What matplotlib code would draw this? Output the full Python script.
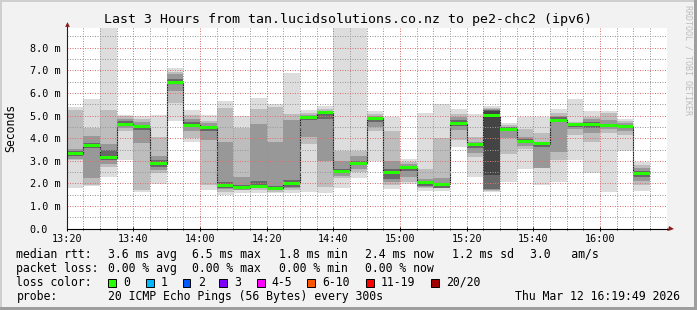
import matplotlib

matplotlib.use("Agg")
import matplotlib.pyplot as plt
from matplotlib.patches import Rectangle

W, H = 697, 310
MONO = "DejaVu Sans Mono"

title = "Last 3 Hours from tan.lucidsolutions.co.nz to pe2-chc2 (ipv6)"

# one smoke column per 300 s probe round
bar_times = [
    "13:20", "13:25", "13:30", "13:35", "13:40", "13:45", "13:50", "13:55",
    "14:00", "14:05", "14:10", "14:15", "14:20", "14:25", "14:30", "14:35",
    "14:40", "14:45", "14:50", "14:55", "15:00", "15:05", "15:10", "15:15",
    "15:20", "15:25", "15:30", "15:35", "15:40", "15:45", "15:50", "15:55",
    "16:00", "16:05", "16:10",
]
step_min = 5

# milliseconds
median_ms = [3.31, 3.66, 3.13, 4.62, 4.53, 2.87, 6.46, 4.57, 4.46, 1.90, 1.81, 1.88,
             1.79, 2.00, 4.90, 5.13, 2.54, 2.90, 4.88, 2.50, 2.69, 2.03, 1.96, 4.63,
             3.74, 4.99, 4.40, 3.87, 3.76, 4.79, 4.62, 4.60, 4.56, 4.50, 2.44]

# smoke bands, outermost (min..max) to innermost
ping_min = [1.78, 1.90, 2.29, 3.03, 1.63, 1.99, 4.76, 3.84, 1.72, 1.51, 1.56, 1.56,
            1.56, 1.56, 1.63, 1.59, 1.78, 2.25, 2.99, 1.75, 1.96, 1.68, 1.66, 3.62,
            2.29, 1.60, 2.07, 2.63, 1.93, 2.07, 3.03, 2.44, 1.63, 3.44, 1.68]
ping_max = [5.37, 5.72, 9.20, 5.04, 4.99, 5.04, 7.10, 5.24, 5.01, 5.63, 4.99, 5.78,
            5.51, 6.88, 5.24, 5.41, 9.20, 9.20, 5.19, 4.94, 3.10, 5.13, 5.49, 5.31,
            5.09, 5.41, 4.69, 4.94, 4.94, 5.28, 5.72, 5.19, 5.19, 4.84, 2.96]

band2_lo = [3.03, 1.94, 2.74, 4.30, 1.71, 2.45, 5.57, 4.01, 1.95, 1.63, 1.71, 1.71,
            1.63, 1.71, 3.74, 1.85, 2.22, 2.51, 4.31, 1.93, 2.07, 1.78, 1.78, 3.91,
            3.18, 1.68, 3.32, 3.54, 2.69, 3.03, 4.13, 3.81, 4.25, 4.13, 1.93]
band2_hi = [5.24, 4.43, 5.24, 4.98, 4.87, 4.05, 6.93, 5.04, 4.75, 5.34, 4.43, 5.31,
            5.38, 5.09, 5.13, 5.31, 3.43, 3.43, 5.09, 4.31, 2.96, 2.66, 3.99, 5.09,
            4.06, 5.34, 4.57, 4.40, 4.21, 5.13, 4.72, 4.94, 5.12, 4.75, 2.81]

band3_lo = [3.08, 2.25, 2.88, 4.45, 3.80, 2.60, 6.10, 4.30, 3.90, 1.75, 1.72, 1.78,
            1.71, 1.80, 4.06, 3.00, 2.35, 2.65, 4.50, 2.05, 2.30, 1.85, 1.80, 4.35,
            3.35, 1.72, 4.00, 3.65, 2.70, 3.40, 4.40, 4.25, 4.40, 4.30, 2.10]
band3_hi = [3.52, 4.10, 3.76, 4.85, 4.70, 3.20, 6.85, 4.85, 4.65, 3.84, 2.30, 4.63,
            3.84, 4.79, 5.02, 5.22, 3.00, 3.20, 4.98, 3.00, 2.85, 2.20, 2.25, 4.95,
            3.85, 5.28, 4.50, 4.05, 3.85, 4.98, 4.68, 4.85, 4.80, 4.65, 2.70]

band4_lo = [3.22, 3.55, 3.03, 4.55, 4.35, 2.72, 6.40, 4.50, 4.30, 1.80, 1.74, 1.82,
            1.72, 1.85, 4.80, 4.85, 2.45, 2.80, 4.72, 2.20, 2.55, 1.90, 1.82, 4.55,
            3.55, 1.75, 4.30, 3.80, 3.60, 4.70, 4.48, 4.45, 4.50, 4.45, 2.30]
band4_hi = [3.42, 3.80, 3.47, 4.75, 4.60, 3.05, 6.62, 4.70, 4.55, 2.05, 1.95, 2.10,
            1.90, 2.15, 5.00, 5.18, 2.62, 3.00, 4.94, 2.65, 2.78, 2.08, 2.02, 4.80,
            3.80, 5.25, 4.48, 3.95, 3.82, 4.95, 4.66, 4.70, 4.62, 4.60, 2.55]

band5_lo = [3.25, 3.60, 3.06, 4.58, 4.46, 2.80, 6.42, 4.52, 4.40, 1.84, 1.76, 1.83,
            1.74, 1.94, 4.85, 5.07, 2.48, 2.85, 4.83, 2.44, 2.63, 1.97, 1.90, 4.58,
            3.68, 2.37, 4.35, 3.82, 3.70, 4.74, 4.57, 4.55, 4.51, 4.45, 2.38]
band5_hi = [3.38, 3.72, 3.20, 4.68, 4.58, 2.94, 6.52, 4.62, 4.50, 1.96, 1.86, 1.94,
            1.84, 2.06, 4.95, 5.17, 2.58, 2.95, 4.92, 2.55, 2.74, 2.07, 2.00, 4.68,
            3.78, 5.20, 4.45, 3.92, 3.80, 4.84, 4.66, 4.65, 4.60, 4.55, 2.48]

y_ticks = [0, 1, 2, 3, 4, 5, 6, 7, 8]
y_tick_labels = ["0.0", "1.0 m", "2.0 m", "3.0 m", "4.0 m", "5.0 m", "6.0 m", "7.0 m", "8.0 m"]
y_top = 8.87
x_tick_labels = ["13:20", "13:40", "14:00", "14:20", "14:40", "15:00", "15:20", "15:40", "16:00"]
x_end = "16:20"

legend_rtt = ["median rtt:", "3.6 ms avg", "6.5 ms max", "1.8 ms min", "2.4 ms now",
              "1.2 ms sd", "3.0   am/s"]
legend_loss = ["packet loss:", "0.00 % avg", "0.00 % max", "0.00 % min", "0.00 % now"]
loss_labels = ["0", "1", "2", "3", "4-5", "6-10", "11-19", "20/20"]
loss_colors = ["#26ff00", "#00b8ff", "#0059ff", "#7e00ff", "#ff00ff", "#ff5500", "#ff0000", "#a10000"]
probe_text = "20 ICMP Echo Pings (56 Bytes) every 300s"
stamp = "Thu Mar 12 16:19:49 2026"


def minutes(hhmm: str) -> int:
    h, m = hhmm.split(":")
    return (int(h) - 13) * 60 + int(m) - 20


def fx(px: float) -> float:
    return px / W


def fy(py: float) -> float:
    return 1 - py / H


fig = plt.figure(figsize=(W / 100, H / 100), dpi=100, facecolor="#f2f2f2")

# rrdtool-ish shaded frame
fig.add_artist(Rectangle((0, fy(2)), 1, 2 / H, transform=fig.transFigure, color="#cfcfcf", lw=0))
fig.add_artist(Rectangle((0, 0), 2 / W, 1, transform=fig.transFigure, color="#cfcfcf", lw=0))
fig.add_artist(Rectangle((0, 0), 1, 3 / H, transform=fig.transFigure, color="#9e9e9e", lw=0))
fig.add_artist(Rectangle((fx(694), 0), 3 / W, 1, transform=fig.transFigure, color="#9e9e9e", lw=0))

x0, x1, ytop, ybot = 66.7, 666.7, 28.0, 228.7
ax = fig.add_axes([fx(x0), fy(ybot), (x1 - x0) / W, (ybot - ytop) / H])
ax.set_facecolor("white")

edges = [minutes(t) for t in bar_times]
edges.append(edges[-1] + step_min)

layers = [
    (ping_min, ping_max, "#dddddd"),
    (band2_lo, band2_hi, "#bdbdbd"),
    (band3_lo, band3_hi, "#989898"),
    (band4_lo, band4_hi, "#686868"),
    (band5_lo, band5_hi, "#444444"),
]
for lo, hi, col in layers:
    ax.stairs(hi, edges, baseline=lo, fill=True, color=col, lw=0, zorder=1)

ax.stairs(median_ms, edges, baseline=None, color="#202020", lw=0.8, zorder=2)
hw = 1.45 * y_top / (ybot - ytop)
ax.stairs([m + hw for m in median_ms], edges, baseline=[m - hw for m in median_ms],
          fill=True, color=loss_colors[0], lw=0, zorder=3)

ax.set_xlim(0, minutes(x_end))
ax.set_ylim(0, y_top)
ax.set_xticks([minutes(t) for t in x_tick_labels], x_tick_labels)
ax.set_xticks(range(0, minutes(x_end) + 1, step_min), minor=True)
ax.set_yticks(y_ticks, y_tick_labels)
ax.set_yticks([v + 0.5 for v in y_ticks], minor=True)

ax.grid(which="minor", color=(0.6, 0.6, 0.6, 0.45), lw=0.72, ls=(0, (1, 1.5)))
ax.grid(which="major", color=(0.85, 0.45, 0.45, 0.45), lw=0.72, ls=(0, (1, 1.5)))
ax.set_axisbelow(False)

for s in ax.spines.values():
    s.set_visible(False)
ax.tick_params(axis="x", which="major", direction="inout", length=2.9, width=0.7,
               pad=2.4, labelsize=7.3, colors="black")
ax.tick_params(axis="x", which="minor", direction="inout", length=2.0, width=0.6)
ax.tick_params(axis="y", which="both", length=0, pad=(x0 - 29.5) * 0.72, labelsize=7.3)
for lbl in ax.get_xticklabels() + ax.get_yticklabels():
    lbl.set_fontfamily(MONO)
for lbl in ax.get_yticklabels():
    lbl.set_horizontalalignment("left")

# axes with arrows
axis_col = "#202020"
arrow_col = "#8b1a1a"
ax.plot([0, 0], [0, 1 + 3.5 / (ybot - ytop)], transform=ax.transAxes, clip_on=False,
        color=axis_col, lw=0.8, zorder=4)
ax.plot([0, 1 + 3.0 / (x1 - x0)], [0, 0], transform=ax.transAxes, clip_on=False,
        color="black", lw=0.8, zorder=4)
ax.plot([0], [(ybot - 23.5) / (ybot - ytop)], transform=ax.transAxes, clip_on=False,
        marker="^", ms=3.4, color=arrow_col, mew=0, zorder=5)
ax.plot([1 + (671.2 - x1) / (x1 - x0)], [0], transform=ax.transAxes, clip_on=False,
        marker=">", ms=3.6, color=arrow_col, mew=0, zorder=5)

fig.text(fx(347.5), fy(19.3), title, ha="center", va="center", fontsize=9.5, family=MONO)
fig.text(fx(11), fy(128), "Seconds", ha="center", va="center", rotation=90,
         fontsize=8.3, family=MONO)
fig.text(fx(688), fy(60), "RRDTOOL / TOBI OETIKER", ha="center", va="center",
         rotation=270, fontsize=6, family=MONO, color="#bdbdbd")

leg = dict(ha="left", va="center", fontsize=8.3, family=MONO)
rtt_x = [16.4, 107.6, 192.4, 279.1, 365.3, 451.6, 529.8]
for txt, px in zip(legend_rtt, rtt_x):
    fig.text(fx(px), fy(254.3), txt, **leg)
for txt, px in zip(legend_loss, rtt_x):
    fig.text(fx(px), fy(268.3), txt, **leg)

fig.text(fx(16.4), fy(282.3), "loss color:", **leg)
box_x = [108.3, 145.7, 182.7, 219.3, 256.7, 307.3, 365.7, 431.0]
for lab, col, bx in zip(loss_labels, loss_colors, box_x):
    fig.add_artist(Rectangle((fx(bx), fy(286.5)), 7.8 / W, 7.8 / H, transform=fig.transFigure,
                             facecolor=col, edgecolor="black", lw=0.7))
    fig.text(fx(bx + 15), fy(282.3), lab, **leg)

fig.text(fx(16.4), fy(296.3), "probe:", **leg)
fig.text(fx(107.6), fy(296.3), probe_text, **leg)
fig.text(fx(680), fy(296.3), stamp, ha="right", va="center", fontsize=8.3, family=MONO)

fig.savefig("out.png", dpi=100, facecolor=fig.get_facecolor())
